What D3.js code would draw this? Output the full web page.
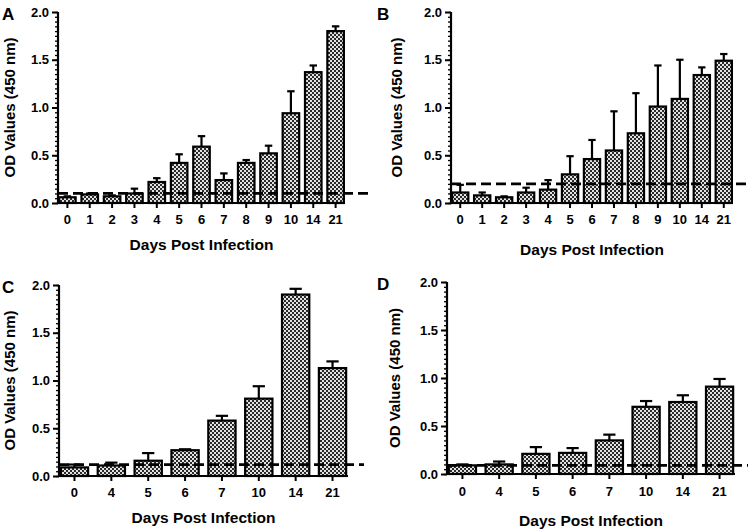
<!DOCTYPE html>
<html>
<head>
<meta charset="utf-8">
<script src="https://cdn.jsdelivr.net/npm/d3@7"></script>
<style>
  html, body { margin: 0; padding: 0; background: #fff; }
  svg { display: block; }
  text { font-family: "Liberation Sans", Arial, sans-serif; font-weight: bold; fill: #000; }
</style>
</head>
<body>
<svg id="chart" width="750" height="531"></svg>
<script>
// ---- data ----
const daysAB = ["0","1","2","3","4","5","6","7","8","9","10","14","21"];
const daysCD = ["0","4","5","6","7","10","14","21"];
const valuesA = [0.06,0.09,0.07,0.10,0.22,0.42,0.59,0.24,0.42,0.52,0.94,1.37,1.80];
const errorsA = [0.01,0.01,0.01,0.05,0.04,0.09,0.11,0.07,0.03,0.08,0.23,0.07,0.05];
const valuesB = [0.11,0.08,0.06,0.11,0.14,0.30,0.46,0.55,0.73,1.01,1.09,1.34,1.49];
const errorsB = [0.08,0.03,0.01,0.05,0.10,0.19,0.20,0.41,0.42,0.43,0.41,0.08,0.07];
const valuesC = [0.09,0.11,0.16,0.27,0.58,0.81,1.90,1.13];
const errorsC = [0.03,0.03,0.08,0.01,0.05,0.13,0.06,0.07];
const valuesD = [0.09,0.10,0.21,0.22,0.35,0.70,0.75,0.91];
const errorsD = [0.01,0.03,0.07,0.05,0.06,0.06,0.07,0.08];
const cutoffs = [0.10, 0.20, 0.12, 0.09];
const panelLetters = ["A","B","C","D"];
const yMajorTicks = [0, 0.5, 1.0, 1.5, 2.0];
const yTitle = "OD Values (450 nm)";
const xTitle = "Days Post Infection";

// ---- layout ----
const layouts = [
  {left: 58,  right: 345, top: 12,  bottom: 203, dashEnd: 372, letterX: 2,   letterY: 20,  yTitleX: 11,  tickY: 221, xTitleY: 250},
  {left: 451, right: 733, top: 12,  bottom: 203, dashEnd: 750, letterX: 377, letterY: 20,  yTitleX: 398, tickY: 221, xTitleY: 255},
  {left: 59,  right: 348, top: 285, bottom: 476, dashEnd: 364, letterX: 2,   letterY: 293, yTitleX: 11,  tickY: 494, xTitleY: 523},
  {left: 447, right: 735, top: 282, bottom: 474, dashEnd: 748, letterX: 377, letterY: 290, yTitleX: 396, tickY: 493, xTitleY: 526}
];

const svg = d3.select("#chart");
const defs = svg.append("defs");
const pat = defs.append("pattern")
  .attr("id", "checker").attr("patternUnits", "userSpaceOnUse")
  .attr("width", 4).attr("height", 4);
pat.append("rect").attr("width", 4).attr("height", 4).attr("fill", "#e2e2e2");
pat.append("rect").attr("x", 0).attr("y", 0).attr("width", 2).attr("height", 2).attr("fill", "#2a2a2a");
pat.append("rect").attr("x", 2).attr("y", 2).attr("width", 2).attr("height", 2).attr("fill", "#2a2a2a");

const panels = [
  {cats: daysAB, vals: valuesA, errs: errorsA},
  {cats: daysAB, vals: valuesB, errs: errorsB},
  {cats: daysCD, vals: valuesC, errs: errorsC},
  {cats: daysCD, vals: valuesD, errs: errorsD}
];

const yMinor = d3.range(0, 41).map(i => i * 0.05);

panels.forEach((p, i) => {
  const L = layouts[i];
  const g = svg.append("g");
  const x = d3.scaleBand().domain(p.cats).range([L.left, L.right]).paddingInner(0.26).paddingOuter(0.05);
  const y = d3.scaleLinear().domain([0, 2]).range([L.bottom, L.top]);
  const data = p.cats.map((c, k) => ({c, v: p.vals[k], e: p.errs[k]}));

  // bars
  g.selectAll("rect.bar").data(data).enter().append("rect")
    .attr("class", "bar")
    .attr("x", d => x(d.c))
    .attr("y", d => y(d.v))
    .attr("width", x.bandwidth())
    .attr("height", d => y(0) - y(d.v))
    .attr("fill", "url(#checker)")
    .attr("stroke", "#000").attr("stroke-width", 2.2);

  // error bars
  const capW = x.bandwidth() * 0.45;
  g.selectAll("line.err").data(data).enter().append("line")
    .attr("x1", d => x(d.c) + x.bandwidth() / 2).attr("x2", d => x(d.c) + x.bandwidth() / 2)
    .attr("y1", d => y(d.v)).attr("y2", d => y(d.v + d.e))
    .attr("stroke", "#000").attr("stroke-width", 2.2);
  g.selectAll("line.cap").data(data).enter().append("line")
    .attr("x1", d => x(d.c) + x.bandwidth() / 2 - capW / 2)
    .attr("x2", d => x(d.c) + x.bandwidth() / 2 + capW / 2)
    .attr("y1", d => y(d.v + d.e)).attr("y2", d => y(d.v + d.e))
    .attr("stroke", "#000").attr("stroke-width", 2.2);

  // cutoff dashed line
  g.append("line")
    .attr("x1", L.left).attr("x2", L.dashEnd)
    .attr("y1", y(cutoffs[i])).attr("y2", y(cutoffs[i]))
    .attr("stroke", "#000").attr("stroke-width", 2.8)
    .attr("stroke-dasharray", "10,5");

  // y axis minor ticks
  const yMinorAxis = d3.axisLeft(y).tickValues(yMinor).tickSize(3).tickFormat("");
  const gm = g.append("g").attr("transform", `translate(${L.left},0)`).call(yMinorAxis);
  gm.select(".domain").remove();
  gm.selectAll("line").attr("stroke", "#000").attr("stroke-width", 1.3);

  // y axis major
  const yAxis = d3.axisLeft(y).tickValues(yMajorTicks).tickSize(6).tickPadding(3).tickFormat(d3.format(".1f"));
  const ga = g.append("g").attr("transform", `translate(${L.left},0)`).call(yAxis);
  ga.select(".domain").remove();
  ga.selectAll("line").attr("stroke", "#000").attr("stroke-width", 2);
  ga.selectAll("text").attr("font-size", 13).attr("font-family", "Liberation Sans, Arial, sans-serif").attr("font-weight", "bold");
  g.append("line").attr("x1", L.left).attr("x2", L.left).attr("y1", L.top).attr("y2", L.bottom + 1)
    .attr("stroke", "#000").attr("stroke-width", 2.2);

  // x axis
  const xAxis = d3.axisBottom(x).tickSize(5).tickSizeOuter(0).tickPadding(4);
  const gx = g.append("g").attr("transform", `translate(0,${L.bottom})`).call(xAxis);
  gx.select(".domain").remove();
  gx.selectAll("line").attr("stroke", "#000").attr("stroke-width", 2);
  gx.selectAll("text").attr("font-size", 13).attr("font-family", "Liberation Sans, Arial, sans-serif").attr("font-weight", "bold")
    .attr("y", null).attr("dy", null)
    .attr("transform", `translate(0,${L.tickY - L.bottom})`).attr("dominant-baseline", "middle");
  g.append("line").attr("x1", L.left - 1).attr("x2", L.right).attr("y1", L.bottom).attr("y2", L.bottom)
    .attr("stroke", "#000").attr("stroke-width", 2.2);

  // titles
  g.append("text").attr("x", (L.left + L.right) / 2).attr("y", L.xTitleY)
    .attr("text-anchor", "middle").attr("font-size", 15.5).text(xTitle);
  g.append("text").attr("transform", `translate(${L.yTitleX},${(L.top + L.bottom) / 2}) rotate(-90)`)
    .attr("text-anchor", "middle").attr("dominant-baseline", "middle").attr("font-size", 15).text(yTitle);
  g.append("text").attr("x", L.letterX).attr("y", L.letterY)
    .attr("font-size", 17).text(panelLetters[i]);
});
</script>
</body>
</html>
